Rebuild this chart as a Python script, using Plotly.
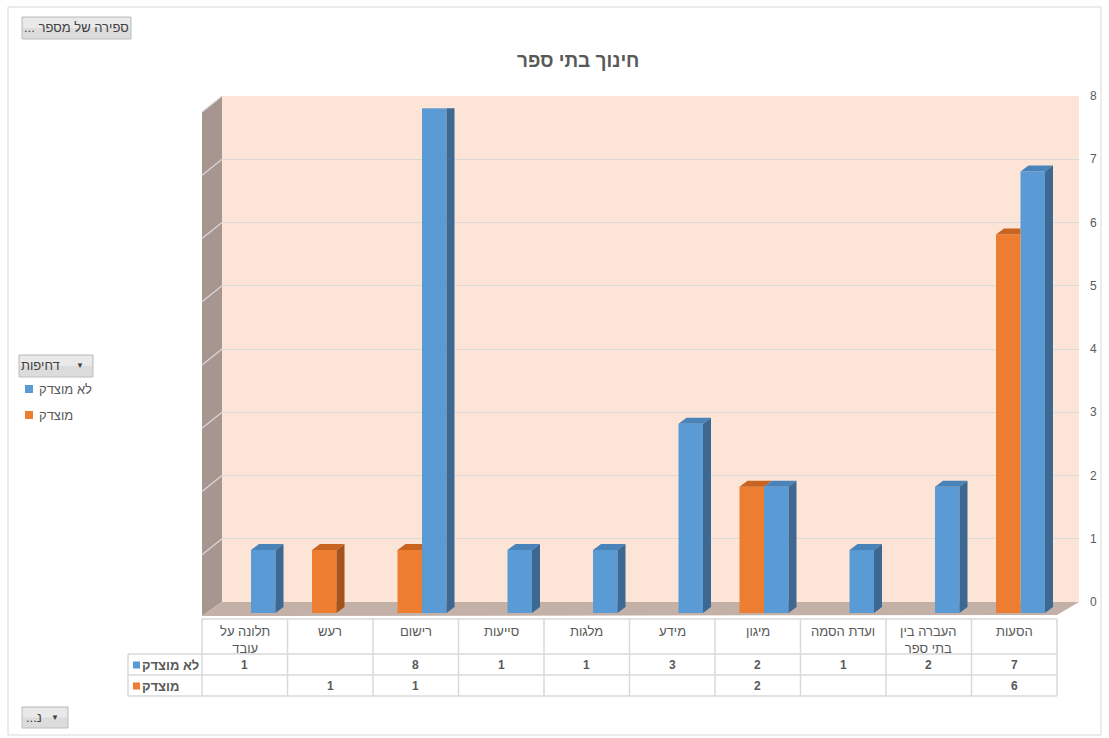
import textwrap
import plotly.graph_objects as go

W, H = 1109, 738

# ---- data -------------------------------------------------------------
categories = ["הסעות", "העברה בין בתי ספר", "ועדת הסמה", "מיגון", "מידע",
              "מלגות", "סייעות", "רישום", "רעש", "תלונה על עובד"]
not_justified = [7, 2, 1, 2, 3, 1, 1, 8, None, 1]      # לא מוצדק
justified = [6, None, None, 2, None, None, None, 1, 1, None]  # מוצדק
series_names = ["לא מוצדק", "מוצדק"]
y_ticks = [0, 1, 2, 3, 4, 5, 6, 7, 8]
title_text = "חינוך בתי ספר"
field_button = "... ספירה של מספר"
legend_field = "דחיפות"
axis_field = "...נ"

# ---- style ------------------------------------------------------------
FONT = "Liberation Sans, DejaVu Sans, Arial, sans-serif"
TXT = "#595959"
BLUE, BLUE_TOP, BLUE_SIDE = "#5B9BD5", "#4A82BA", "#3D6891"
ORANGE, ORANGE_TOP, ORANGE_SIDE = "#ED7D31", "#C8641F", "#A5531C"
GRID = "#D9D9D9"


def fx(px):
    return px / W


def fy(py):
    return 1 - py / H


n = len(categories)
idx = list(range(n))
bw = 0.2865            # width of one bar in category units
ddx = -8 / 85.5         # depth offset (x) in category units, rightwards
ddy = 6 / 63.1          # depth offset (y) in value units, upwards

fig = go.Figure()

# back-wall subplot (gridlines + value labels)
fig.add_trace(go.Scatter(x=[0], y=[0], mode="markers", marker=dict(opacity=0),
                         showlegend=False, hoverinfo="skip"))

# front faces of the columns
fig.add_trace(go.Bar(x=idx, y=not_justified, width=bw, offset=-bw,
                     marker=dict(color=BLUE, line=dict(width=0)),
                     name=series_names[0], xaxis="x2", yaxis="y2", showlegend=False))
fig.add_trace(go.Bar(x=idx, y=justified, width=bw, offset=0,
                     marker=dict(color=ORANGE, line=dict(width=0)),
                     name=series_names[1], xaxis="x2", yaxis="y2", showlegend=False))


def poly_trace(xs, ys, color):
    return go.Scatter(x=xs, y=ys, mode="lines", fill="toself", fillcolor=color,
                      line=dict(width=0, color=color), xaxis="x2", yaxis="y2",
                      showlegend=False, hoverinfo="skip")


# orange depth faces (partly hidden behind the blue neighbour)
otx, oty, osx, osy = [], [], [], []
for i, (v, b) in enumerate(zip(justified, not_justified)):
    if v is None:
        continue
    left, right = i + bw, i
    if b is not None and b > v:
        otx += [left, right, right, left + ddx, None]
        oty += [v, v, v + ddy, v + ddy, None]
    else:
        otx += [left, right, right + ddx, left + ddx, None]
        oty += [v, v, v + ddy, v + ddy, None]
    if b is None:
        osx += [right, right, right + ddx, right + ddx, None]
        osy += [0, v, v + ddy, ddy, None]
fig.add_trace(poly_trace(otx, oty, ORANGE_TOP))
fig.add_trace(poly_trace(osx, osy, ORANGE_SIDE))

# blue depth faces
btx, bty, bsx, bsy = [], [], [], []
for i, v in enumerate(not_justified):
    if v is None:
        continue
    left, right = i, i - bw
    btx += [left, right, right + ddx, left + ddx, None]
    bty += [v, v, v + ddy, v + ddy, None]
    bsx += [right, right, right + ddx, right + ddx, None]
    bsy += [0, v, v + ddy, ddy, None]
fig.add_trace(poly_trace(btx, bty, BLUE_TOP))
fig.add_trace(poly_trace(bsx, bsy, BLUE_SIDE))

# ---- walls, floor, frame ---------------------------------------------
shapes = []
shapes.append(dict(type="rect", xref="paper", yref="paper",
                   x0=fx(8), x1=fx(1101), y0=fy(735), y1=fy(7),
                   line=dict(color=GRID, width=1), fillcolor="white", layer="below"))
shapes.append(dict(type="rect", xref="paper", yref="paper",
                   x0=fx(222), x1=fx(1079), y0=fy(602), y1=fy(96),
                   line=dict(width=0), fillcolor="#FCE4D6", layer="below"))


def ppath(pts):
    return "M " + " L ".join(f"{fx(a):.5f},{fy(b):.5f}" for a, b in pts) + " Z"


shapes.append(dict(type="path", xref="paper", yref="paper",
                   path=ppath([(202, 112), (222, 96), (222, 602), (202, 616)]),
                   fillcolor="#A6968F", line=dict(width=0), layer="below"))
shapes.append(dict(type="path", xref="paper", yref="paper",
                   path=ppath([(202, 616), (222, 602), (1079, 602), (1057, 615)]),
                   fillcolor="#C3B1A7", line=dict(width=0), layer="below"))
# gridlines continued on the side wall
step = (602 - 96) / (len(y_ticks) - 1)
for t in y_ticks[1:]:
    yb = 602 - t * step
    shapes.append(dict(type="line", xref="paper", yref="paper",
                       x0=fx(222), y0=fy(yb), x1=fx(202), y1=fy(yb + 16),
                       line=dict(color=GRID, width=1.2), layer="below"))

# ---- data table -------------------------------------------------------
tl, tr = 202, 1057
cw = (tr - tl) / n
rows_y = [619, 654, 675, 696]
for k, yy in enumerate(rows_y):
    shapes.append(dict(type="line", xref="paper", yref="paper",
                       x0=fx(tl if k == 0 else 128), x1=fx(tr), y0=fy(yy), y1=fy(yy),
                       line=dict(color=GRID, width=1.5)))
for j in range(n + 1):
    shapes.append(dict(type="line", xref="paper", yref="paper",
                       x0=fx(tl + j * cw), x1=fx(tl + j * cw), y0=fy(619), y1=fy(696),
                       line=dict(color=GRID, width=1.5)))
shapes.append(dict(type="line", xref="paper", yref="paper",
                   x0=fx(128), x1=fx(128), y0=fy(654), y1=fy(696),
                   line=dict(color=GRID, width=1.5)))

annotations = []


def note(x, y, text, size=13, color=TXT, xanchor="center", yanchor="middle", bold=False):
    if bold:
        text = f"<b>{text}</b>"
    annotations.append(dict(x=fx(x), y=fy(y), xref="paper", yref="paper", text=text,
                            showarrow=False, xanchor=xanchor, yanchor=yanchor,
                            font=dict(family=FONT, size=size, color=color)))


for i, cat in enumerate(categories):
    cx = tl + (n - 1 - i + 0.5) * cw
    note(cx, 622, "<br>".join(textwrap.wrap(cat, 9)), size=13, yanchor="top")
    if not_justified[i] is not None:
        note(cx, 665, str(not_justified[i]), size=12, bold=True)
    if justified[i] is not None:
        note(cx, 686, str(justified[i]), size=12, bold=True)

# row labels with colour keys
for yy, name, col in [(665, series_names[0], BLUE), (686, series_names[1], ORANGE)]:
    shapes.append(dict(type="rect", xref="paper", yref="paper",
                       x0=fx(133), x1=fx(140), y0=fy(yy + 3.5), y1=fy(yy - 3.5),
                       fillcolor=col, line=dict(width=0)))
    note(140, yy, name, size=13, xanchor="left", bold=True)

# title
note(578, 60, title_text, size=19, bold=True)


# pivot field buttons
def button(x0, y0, x1, y1):
    shapes.append(dict(type="rect", xref="paper", yref="paper",
                       x0=fx(x0), x1=fx(x1), y0=fy(y1), y1=fy(y0),
                       fillcolor="#DCDCDC", line=dict(color="#BDBDBD", width=1)))
    shapes.append(dict(type="rect", xref="paper", yref="paper",
                       x0=fx(x0 + 1), x1=fx(x1 - 1), y0=fy((y0 + y1) / 2), y1=fy(y0 + 1),
                       fillcolor="#E9E9E9", line=dict(width=0)))


button(22, 17, 131, 39)
note(76, 28, field_button, size=13, color="#404040")

button(19, 355, 93, 377)
note(40, 366, legend_field, size=13, color="#404040")
note(80, 366, "▼", size=8, color="#404040")

button(22, 707, 68, 728)
note(34, 717, axis_field, size=13, color="#404040")
note(55, 717, "▼", size=8, color="#404040")

# legend entries
for yy, name, col in [(389, series_names[0], BLUE), (415, series_names[1], ORANGE)]:
    shapes.append(dict(type="rect", xref="paper", yref="paper",
                       x0=fx(25), x1=fx(33), y0=fy(yy + 4), y1=fy(yy - 4),
                       fillcolor=col, line=dict(width=0)))
    note(37, yy, name, size=13, xanchor="left")

fig.update_layout(
    width=W, height=H,
    margin=dict(l=0, r=0, t=0, b=0, autoexpand=False),
    paper_bgcolor="white",
    plot_bgcolor="rgba(0,0,0,0)",
    barmode="overlay",
    hovermode=False,
    showlegend=False,
    shapes=shapes,
    annotations=annotations,
    xaxis=dict(domain=[fx(222), fx(1079)], range=[0, 1], visible=False, anchor="y"),
    yaxis=dict(domain=[fy(602), fy(96)], range=[0, 8], tickvals=y_ticks,
               side="right", anchor="x", showgrid=True, gridcolor=GRID, gridwidth=1.2,
               zeroline=False, showline=False, ticks="", ticklabelstandoff=10,
               automargin=False,
               tickfont=dict(family=FONT, size=12, color=TXT)),
    xaxis2=dict(domain=[fx(tl + 6.25), fx(tr + 6.25)], range=[n - 0.5, -0.5],
                visible=False, anchor="y2"),
    yaxis2=dict(domain=[fy(613), fy(108.3)], range=[0, 8], visible=False, anchor="x2"),
)

fig.write_html("out.html")
